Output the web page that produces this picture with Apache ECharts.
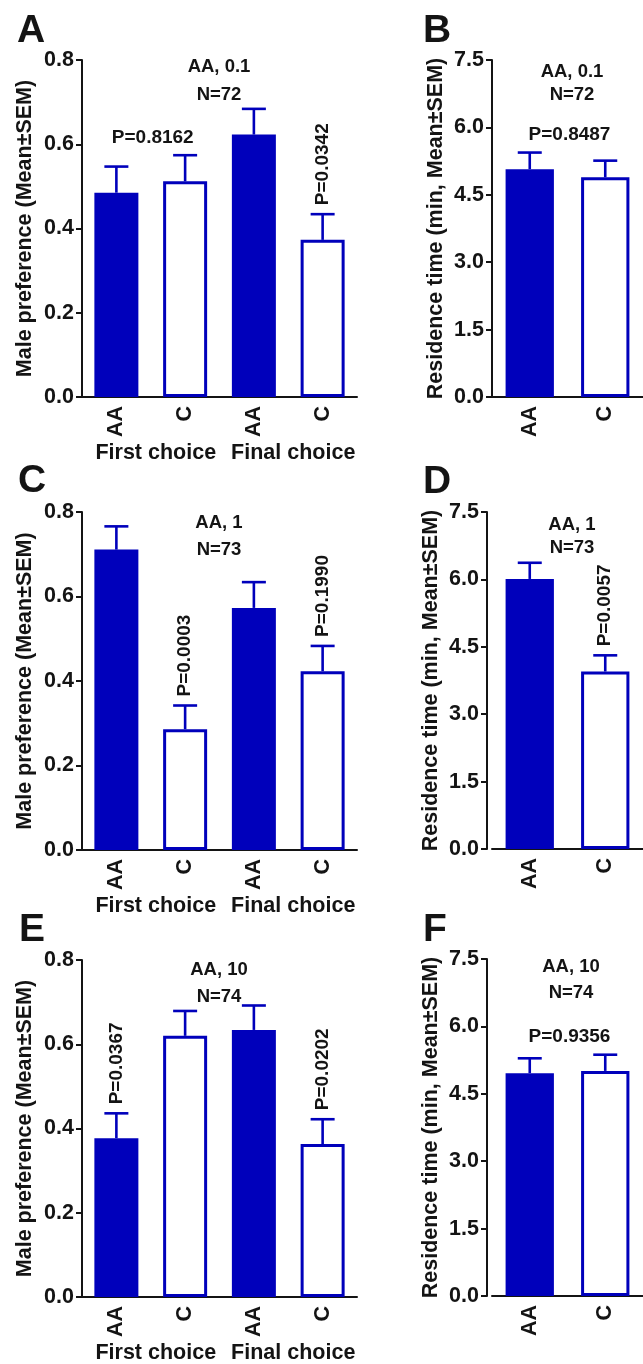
<!DOCTYPE html>
<html>
<head>
<meta charset="utf-8">
<script src="https://cdn.jsdelivr.net/npm/echarts@6/dist/echarts.min.js"></script>
<style>
html, body { margin: 0; padding: 0; background: #fff; }
#main { width: 643px; height: 1364px; }
</style>
</head>
<body>
<div id="main"></div>
<script>
// categories
var prefCats = ['AA', 'C', 'AA', 'C'];
var timeCats = ['AA', 'C'];
var choiceCats = ['First choice', 'Final choice'];

// male preference, mean and SEM
var meanA = [0.485, 0.512, 0.623, 0.373];
var semA = [0.062, 0.062, 0.061, 0.061];
var meanC = [0.711, 0.286, 0.573, 0.423];
var semC = [0.055, 0.056, 0.061, 0.060];
var meanE = [0.377, 0.620, 0.634, 0.363];
var semE = [0.059, 0.059, 0.058, 0.059];

// residence time (min), mean and SEM
var meanB = [5.07, 4.89];
var semB = [0.37, 0.37];
var meanD = [6.01, 3.95];
var semD = [0.36, 0.36];
var meanF = [4.96, 5.01];
var semF = [0.33, 0.36];

// P values: over a single bar (vertical) or over the pair (horizontal)
var barPA = [null, null, null, 'P=0.0342'];
var barPC = [null, 'P=0.0003', null, 'P=0.1990'];
var barPE = ['P=0.0367', null, null, 'P=0.0202'];
var barPD = [null, 'P=0.0057'];
var pairPA = 'P=0.8162';
var pairPB = 'P=0.8487';
var pairPF = 'P=0.9356';

// dose / sample size captions
var doseLabels = ['AA, 0.1', 'AA, 0.1', 'AA, 1', 'AA, 1', 'AA, 10', 'AA, 10'];
var nLabels = ['N=72', 'N=72', 'N=73', 'N=73', 'N=74', 'N=74'];
var letters = ['A', 'B', 'C', 'D', 'E', 'F'];

var prefTicks = { min: 0, max: 0.8, interval: 0.2 };
var timeTicks = { min: 0, max: 7.5, interval: 1.5 };

var BLUE = '#0000bb';
var INK = '#141414';
var FONT = '"Liberation Sans", Arial, Helvetica, sans-serif';
var ANNO = 'bold 19px ' + FONT;
var CAPF = 'bold 18.5px ' + FONT;

var panels = [
    { grid: { left: 82, top: 60, width: 275, height: 337 }, cats: prefCats, mean: meanA, sem: semA, barP: barPA, pairP: pairPA, pref: true,
      letter: [17, 12], cap: [219, 67, 95] },
    { grid: { left: 492, top: 60, width: 158, height: 337 }, cats: timeCats, mean: meanB, sem: semB, barP: null, pairP: pairPB, pref: false, axisOffset: 0,
      letter: [423, 12], cap: [572, 72, 95] },
    { grid: { left: 82, top: 512, width: 275, height: 338 }, cats: prefCats, mean: meanC, sem: semC, barP: barPC, pairP: null, pref: true,
      letter: [18, 462], cap: [219, 523, 550] },
    { grid: { left: 492, top: 512, width: 158, height: 337 }, cats: timeCats, mean: meanD, sem: semD, barP: barPD, pairP: null, pref: false, axisOffset: 5,
      letter: [423, 463], cap: [572, 525, 548] },
    { grid: { left: 82, top: 960, width: 275, height: 337 }, cats: prefCats, mean: meanE, sem: semE, barP: barPE, pairP: null, pref: true,
      letter: [19, 911], cap: [219, 970, 997] },
    { grid: { left: 492, top: 959, width: 158, height: 337 }, cats: timeCats, mean: meanF, sem: semF, barP: null, pairP: pairPF, pref: false, axisOffset: 5,
      letter: [423, 911], cap: [571, 967, 993] }
];

function errorRenderer(p) {
    return function (params, api) {
        var i = api.value(0);
        var m = api.value(1);
        var s = api.value(2);
        var base = api.coord([i, m]);
        var top = api.coord([i, m + s]);
        var half = 12;
        var ls = { stroke: BLUE, lineWidth: 2.6 };
        var children = [
            { type: 'line', shape: { x1: top[0], y1: base[1], x2: top[0], y2: top[1] }, style: ls },
            { type: 'line', shape: { x1: top[0] - half, y1: top[1], x2: top[0] + half, y2: top[1] }, style: ls }
        ];
        if (p.barP && p.barP[params.dataIndex]) {
            children.push({
                type: 'text', x: top[0], y: top[1] - 9, rotation: Math.PI / 2,
                style: { text: p.barP[params.dataIndex], fill: INK, font: ANNO, align: 'left', verticalAlign: 'middle' }
            });
        }
        if (p.pairP && params.dataIndex === 1) {
            var other = api.coord([0, p.mean[0] + p.sem[0]]);
            children.push({
                type: 'text', x: (other[0] + top[0]) / 2 + 2, y: Math.min(other[1], top[1]) - 8,
                style: { text: p.pairP, fill: INK, font: ANNO, align: 'center', verticalAlign: 'bottom' }
            });
        }
        return { type: 'group', children: children };
    };
}

var grids = [], xAxes = [], yAxes = [], series = [], graphics = [];

panels.forEach(function (p, k) {
    grids.push(p.grid);
    var ticks = p.pref ? prefTicks : timeTicks;

    xAxes.push({
        type: 'category', gridIndex: k, data: p.cats, position: 'bottom',
        axisLine: { lineStyle: { color: INK, width: 2 } },
        axisTick: { alignWithLabel: true, length: 7, lineStyle: { color: INK, width: 2 } },
        axisLabel: { rotate: 90, margin: 9, interval: 0, color: INK, fontSize: 21.5, fontWeight: 'bold', fontFamily: FONT }
    });
    yAxes.push({
        type: 'value', gridIndex: k, min: ticks.min, max: ticks.max, interval: ticks.interval,
        offset: p.axisOffset || 0,
        name: p.pref ? 'Male preference (Mean\u00b1SEM)' : 'Residence time (min, Mean\u00b1SEM)',
        nameLocation: 'middle', nameGap: p.pref ? 46 : 45,
        nameTextStyle: { color: INK, fontSize: 21.5, fontWeight: 'bold', fontFamily: FONT },
        splitLine: { show: false },
        axisLine: { show: true, lineStyle: { color: INK, width: 2 } },
        axisTick: { show: true, length: 6, lineStyle: { color: INK, width: 2 } },
        axisLabel: { margin: 8, color: INK, fontSize: 21.5, fontWeight: 'bold', fontFamily: FONT,
            formatter: function (v) { return v.toFixed(1); } }
    });

    series.push({
        type: 'bar', xAxisIndex: xAxes.length - 1, yAxisIndex: k, barWidth: '64%',
        silent: true, animation: false,
        data: p.mean.map(function (v, i) {
            var filled = p.cats[i] === 'AA';
            return {
                value: v,
                itemStyle: filled ? { color: BLUE } : { color: '#fff', borderColor: BLUE, borderWidth: 3 }
            };
        })
    });
    series.push({
        type: 'custom', xAxisIndex: xAxes.length - 1, yAxisIndex: k, z: 5,
        silent: true, animation: false,
        renderItem: errorRenderer(p),
        data: p.mean.map(function (v, i) { return [i, v, p.sem[i]]; })
    });

    if (p.pref) {
        xAxes.push({
            type: 'category', gridIndex: k, data: choiceCats, position: 'bottom',
            axisLine: { show: false }, axisTick: { show: false },
            axisLabel: { margin: 45, interval: 0, padding: [0, 0, 0, 10], color: INK, fontSize: 21.5, fontWeight: 'bold', fontFamily: FONT }
        });
    }

    graphics.push({
        type: 'text', left: p.letter[0], top: p.letter[1],
        style: { text: letters[k], fill: INK, font: 'bold 39px ' + FONT }
    });
    graphics.push({
        type: 'text', x: p.cap[0], y: p.cap[1],
        style: { text: doseLabels[k], fill: INK, font: CAPF, align: 'center', verticalAlign: 'middle' }
    });
    graphics.push({
        type: 'text', x: p.cap[0], y: p.cap[2],
        style: { text: nLabels[k], fill: INK, font: CAPF, align: 'center', verticalAlign: 'middle' }
    });
});

var chart = echarts.init(document.getElementById('main'), null, { renderer: 'canvas' });
chart.setOption({
    backgroundColor: '#fff',
    animation: false,
    textStyle: { fontFamily: FONT },
    grid: grids,
    xAxis: xAxes,
    yAxis: yAxes,
    series: series,
    graphic: graphics
});
</script>
</body>
</html>
